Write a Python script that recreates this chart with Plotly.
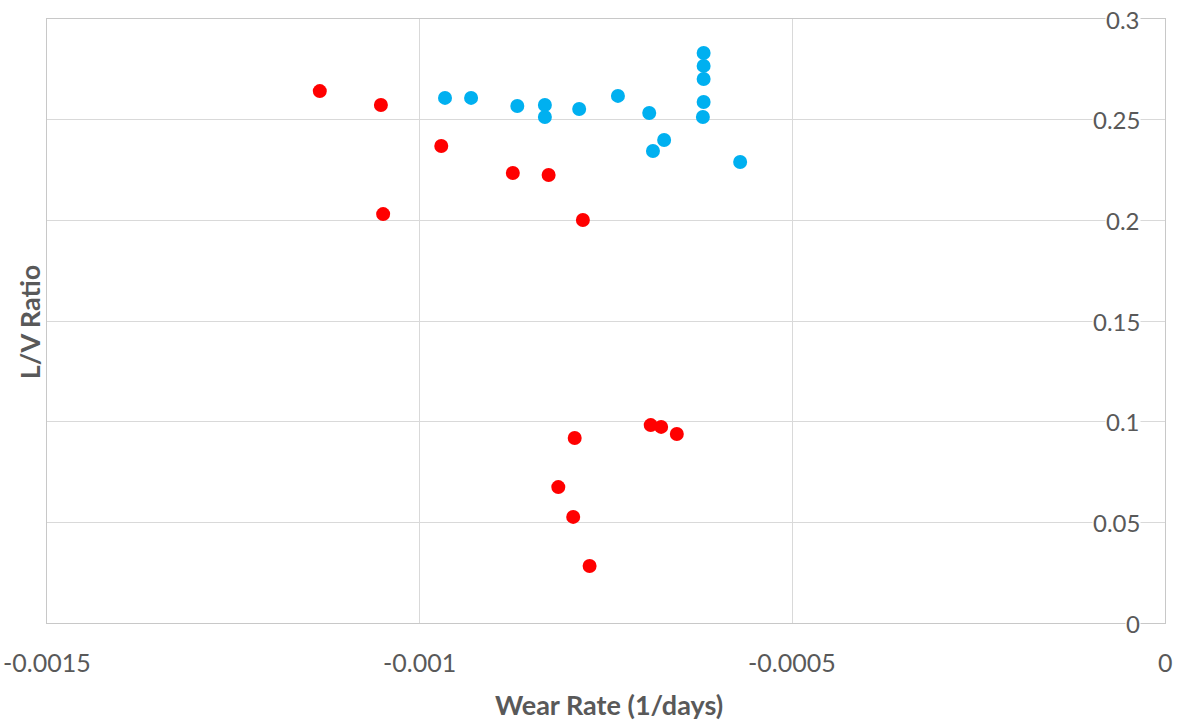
import plotly.graph_objects as go

# Red series
red_x = [-0.001134, -0.001052, -0.001049, -0.000971, -0.000875, -0.000827, -0.000781,
         -0.000792, -0.000814, -0.000794, -0.000772, -0.000690, -0.000676, -0.000655]
red_y = [0.2642, 0.2573, 0.2031, 0.2369, 0.2235, 0.2225, 0.2002,
         0.0919, 0.0675, 0.0527, 0.0283, 0.0983, 0.0974, 0.0939]

# Blue series
blue_x = [-0.000966, -0.000931, -0.000869, -0.000832, -0.000832, -0.000786, -0.000734,
          -0.000692, -0.000672, -0.000687, -0.000619, -0.000619, -0.000619, -0.000619,
          -0.000620, -0.000570]
blue_y = [0.2608, 0.2608, 0.2568, 0.2573, 0.2513, 0.2553, 0.2618,
          0.2533, 0.2399, 0.2344, 0.2831, 0.2767, 0.2702, 0.2588,
          0.2513, 0.2290]

x_ticks = [-0.0015, -0.001, -0.0005, 0]
x_tick_labels = ["-0.0015", "-0.001", "-0.0005", "0"]
y_ticks = [0, 0.05, 0.1, 0.15, 0.2, 0.25, 0.3]
y_tick_labels = ["0", "0.05", "0.1", "0.15", "0.2", "0.25", "0.3"]
x_title = "Wear Rate (1/days)"
y_title = "L/V Ratio"

FONT = "Lato, Open Sans, sans-serif"
GRAY = "#595959"

fig = go.Figure()
fig.add_trace(go.Scatter(x=blue_x, y=blue_y, mode="markers",
                         marker=dict(color="#00B0F0", size=14), showlegend=False))
fig.add_trace(go.Scatter(x=red_x, y=red_y, mode="markers",
                         marker=dict(color="#FF0000", size=14), showlegend=False))

annotations = []
for v, t in zip(x_ticks, x_tick_labels):
    annotations.append(dict(text=t, x=v, xref="x", y=0, yref="paper",
                            xanchor="center", yanchor="middle", yshift=-39,
                            showarrow=False, font=dict(size=25, color=GRAY)))
for v, t in zip(y_ticks, y_tick_labels):
    annotations.append(dict(text=t, x=1, xref="paper", y=v, yref="y",
                            xanchor="right", yanchor="middle", xshift=-24,
                            showarrow=False, bgcolor="white", borderpad=0,
                            font=dict(size=24, color=GRAY)))
annotations.append(dict(text="<b>" + x_title + "</b>", x=0.503, xref="paper",
                        y=0, yref="paper", xanchor="center", yanchor="middle",
                        yshift=-81, showarrow=False, font=dict(size=27, color=GRAY)))
annotations.append(dict(text="<b>" + y_title + "</b>", textangle=-90, showarrow=False,
                        xref="paper", yref="paper", x=-0.016, y=0.498,
                        xanchor="center", yanchor="middle",
                        font=dict(size=27, color=GRAY)))

fig.update_layout(
    width=1177, height=721,
    margin=dict(l=47, r=12, t=19, b=98),
    paper_bgcolor="white", plot_bgcolor="white",
    font=dict(family=FONT, color=GRAY, size=20),
    xaxis=dict(range=[-0.0015, 0], tickvals=x_ticks, showticklabels=False,
               showgrid=True, gridcolor="#D9D9D9", gridwidth=1, automargin=False,
               zeroline=False, showline=True, mirror=True, linecolor="#C8C8C8", linewidth=1),
    yaxis=dict(range=[0, 0.3], tickvals=y_ticks, showticklabels=False,
               side="right", automargin=False,
               showgrid=True, gridcolor="#D9D9D9", gridwidth=1,
               zeroline=False, showline=True, mirror=True, linecolor="#C8C8C8", linewidth=1),
    annotations=annotations,
)

# remove the page's default 8px body margin so the figure fills the window exactly
fig.write_html("out.html", config={"displayModeBar": False},
               post_script="document.body.style.margin='0px';document.body.style.overflow='hidden';")
